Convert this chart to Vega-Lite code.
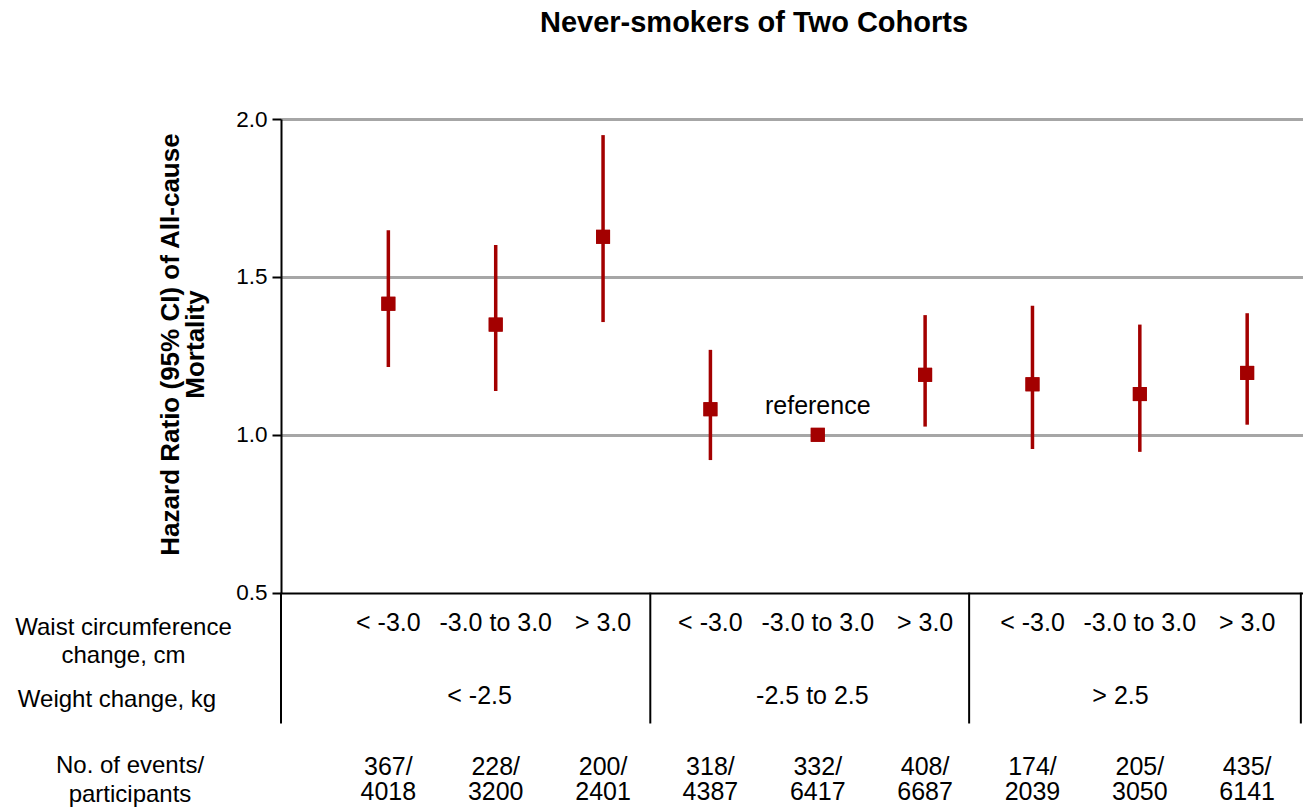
{
  "$schema": "https://vega.github.io/schema/vega-lite/v6.json",
  "width": 1022,
  "height": 691,
  "autosize": "none",
  "padding": {"left": 281, "top": 119, "right": 0, "bottom": 0},
  "background": "white",
  "config": {
    "view": {"stroke": null},
    "font": "Liberation Sans",
    "text": {"font": "Liberation Sans", "color": "black"}
  },
  "title": {
    "text": "Never-smokers of Two Cohorts",
    "font": "Liberation Sans",
    "fontSize": 29,
    "fontWeight": "bold",
    "color": "black",
    "anchor": "middle",
    "frame": "group",
    "baseline": "alphabetic",
    "dx": -38,
    "offset": 47
  },
  "datasets": {
    "cohort": [
      {"pos": 1, "waist": "< -3.0", "weight": "< -2.5", "hr": 1.415, "lo": 1.215, "hi": 1.648, "counts": ["367/", "4018"]},
      {"pos": 2, "waist": "-3.0 to 3.0", "weight": "< -2.5", "hr": 1.349, "lo": 1.139, "hi": 1.601, "counts": ["228/", "3200"]},
      {"pos": 3, "waist": "> 3.0", "weight": "< -2.5", "hr": 1.627, "lo": 1.357, "hi": 1.949, "counts": ["200/", "2401"]},
      {"pos": 4, "waist": "< -3.0", "weight": "-2.5 to 2.5", "hr": 1.081, "lo": 0.920, "hi": 1.269, "counts": ["318/", "4387"]},
      {"pos": 5, "waist": "-3.0 to 3.0", "weight": "-2.5 to 2.5", "hr": 1.0, "lo": null, "hi": null, "note": "reference", "counts": ["332/", "6417"]},
      {"pos": 6, "waist": "> 3.0", "weight": "-2.5 to 2.5", "hr": 1.190, "lo": 1.026, "hi": 1.379, "counts": ["408/", "6687"]},
      {"pos": 7, "waist": "< -3.0", "weight": "> 2.5", "hr": 1.160, "lo": 0.955, "hi": 1.409, "counts": ["174/", "2039"]},
      {"pos": 8, "waist": "-3.0 to 3.0", "weight": "> 2.5", "hr": 1.129, "lo": 0.946, "hi": 1.349, "counts": ["205/", "3050"]},
      {"pos": 9, "waist": "> 3.0", "weight": "> 2.5", "hr": 1.196, "lo": 1.032, "hi": 1.385, "counts": ["435/", "6141"]}
    ],
    "weightGroups": [
      {"pos": 1.85, "weight": "< -2.5"},
      {"pos": 4.95, "weight": "-2.5 to 2.5"},
      {"pos": 7.82, "weight": "> 2.5"}
    ],
    "dividers": [
      {"pos": 0},
      {"pos": 3.44},
      {"pos": 6.41},
      {"pos": 9.5}
    ]
  },
  "encoding": {
    "x": {
      "field": "pos",
      "type": "quantitative",
      "scale": {"domain": [0, 9.52], "nice": false, "zero": false},
      "axis": null
    }
  },
  "layer": [
    {
      "data": {"name": "cohort"},
      "layer": [
        {
          "mark": {"type": "square", "size": 196, "filled": true, "color": "#a30000", "opacity": 1},
          "encoding": {
            "y": {
              "field": "hr",
              "type": "quantitative",
              "scale": {"domain": [0.5, 2], "range": [473.7, 0], "nice": false, "zero": false},
              "axis": {
                "orient": "left",
                "values": [0.5, 1, 1.5, 2],
                "format": ".1f",
                "title": ["Hazard Ratio (95% CI) of All-cause", "Mortality"],
                "titleFont": "Liberation Sans",
                "titleFontSize": 26,
                "titleFontWeight": "bold",
                "titleColor": "black",
                "titleLineHeight": 25,
                "titleAngle": -90,
                "titleAlign": "center",
                "titleBaseline": "alphabetic",
                "titleX": -103,
                "titleY": 225,
                "labelFont": "Liberation Sans",
                "labelFontSize": 22.5,
                "labelColor": "black",
                "labelPadding": 5,
                "tickSize": 9,
                "tickWidth": 2,
                "tickColor": "black",
                "domainColor": "black",
                "domainWidth": 2,
                "grid": true,
                "gridColor": {"condition": {"test": "datum.value === 0.5", "value": "black"}, "value": "#a6a6a6"},
                "gridWidth": {"condition": {"test": "datum.value === 0.5", "value": 2}, "value": 3},
                "gridOpacity": 1
              }
            }
          }
        },
        {
          "transform": [{"filter": "datum.lo != null"}],
          "mark": {"type": "rule", "color": "#a30000", "strokeWidth": 3.5},
          "encoding": {
            "y": {"field": "lo", "type": "quantitative"},
            "y2": {"field": "hi"}
          }
        },
        {
          "mark": {"type": "square", "size": 196, "filled": true, "color": "#a30000", "opacity": 1},
          "encoding": {
            "y": {"field": "hr", "type": "quantitative"}
          }
        },
        {
          "transform": [{"filter": "datum.note != null"}],
          "mark": {"type": "text", "fontSize": 25, "dy": -29, "color": "black"},
          "encoding": {
            "y": {"field": "hr", "type": "quantitative"},
            "text": {"field": "note"}
          }
        }
      ]
    },
    {
      "layer": [
        {
          "data": {"name": "dividers"},
          "mark": {"type": "rule", "color": "black", "strokeWidth": 2},
          "encoding": {
            "y": {
              "datum": 0,
              "type": "quantitative",
              "scale": {"domain": [0, 8], "range": [473.7, 691], "nice": false, "zero": false},
              "axis": {
                "orient": "left",
                "values": [1.263, 3.95, 6.38],
                "labelExpr": "datum.value < 2 ? ['Waist circumference', 'change, cm'] : datum.value < 5 ? 'Weight change, kg' : ['No. of events/', 'participants']",
                "title": null,
                "domain": false,
                "ticks": false,
                "grid": false,
                "labelAlign": "center",
                "labelBaseline": "middle",
                "labelPadding": {
                  "condition": [
                    {"test": "datum.value < 2", "value": 158},
                    {"test": "datum.value < 5", "value": 164.5}
                  ],
                  "value": 151.5
                },
                "labelFont": "Liberation Sans",
                "labelFontSize": 24,
                "labelLineHeight": 28.5,
                "labelLimit": 0,
                "labelColor": "black",
                "labelOverlap": false,
                "labelBound": false,
                "labelFlush": false
              }
            },
            "y2": {"datum": 4.815}
          }
        },
        {
          "data": {"name": "cohort"},
          "mark": {"type": "text", "fontSize": 25, "baseline": "middle"},
          "encoding": {
            "y": {"datum": 1.127, "type": "quantitative"},
            "text": {"field": "waist"}
          }
        },
        {
          "data": {"name": "weightGroups"},
          "mark": {"type": "text", "fontSize": 25, "baseline": "middle"},
          "encoding": {
            "y": {"datum": 3.8, "type": "quantitative"},
            "text": {"field": "weight"}
          }
        },
        {
          "data": {"name": "cohort"},
          "mark": {"type": "text", "fontSize": 25, "baseline": "middle", "lineHeight": 24.5},
          "encoding": {
            "y": {"datum": 6.435, "type": "quantitative"},
            "text": {"field": "counts"}
          }
        }
      ]
    }
  ],
  "resolve": {"scale": {"y": "independent"}, "axis": {"y": "independent"}}
}
